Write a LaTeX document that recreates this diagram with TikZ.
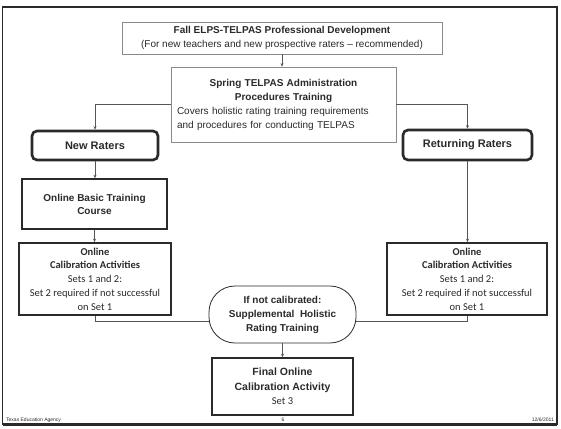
\documentclass[tikz,border=0pt]{standalone}
\usepackage{fontspec}
\setmainfont{Liberation Sans}
\newfontfamily\calib{Carlito}
\usetikzlibrary{arrows.meta}
\definecolor{ink}{HTML}{2A2A2A}
\definecolor{lightline}{HTML}{8A8A8A}
\tikzset{
  x=1pt,y=-1pt,
  txt/.style={font=\fontsize{10}{14}\selectfont, text=ink, align=center, inner sep=0pt},
  thinbox/.style={draw=lightline, line width=0.8pt, txt, minimum width=#1},
  solidbox/.style={draw=ink, line width=1.6pt, txt},
  raterbox/.style={draw=ink, line width=2.6pt, rounded corners=5pt, txt, font=\fontsize{11}{14}\selectfont\bfseries},
  pill/.style={draw=ink, line width=0.8pt, rounded corners=26pt, txt},
  conn/.style={draw=ink!80, line width=0.7pt},
  arr/.style={conn, -{Stealth[length=3.5pt,width=3pt]}},
  foot/.style={font=\fontsize{5}{6}\selectfont, text=ink, inner sep=0pt}
}
\begin{document}
\begin{tikzpicture}
\useasboundingbox (0,0) rectangle (561,428);
\fill[white] (0,0) rectangle (561,428);
% frame
\draw[ink, line width=1.2pt] (2.5,7) rectangle (557,424);
\draw[ink, line width=2.2pt] (2.5,424.5) -- (557,424.5);
% nodes
\node[thinbox=320pt, minimum height=32pt] (fall) at (282,38)
  {\textbf{Fall ELPS-TELPAS Professional Development}\\(For new teachers and new prospective raters -- recommended)};
\node[draw=lightline, line width=0.8pt, txt, minimum width=225pt, minimum height=75pt, text width=213pt, align=left] (spring) at (283.5,104.5)
  {{\centering\bfseries Spring TELPAS Administration\\ Procedures Training\par}Covers holistic rating training requirements\\ and procedures for conducting TELPAS};
\node[raterbox, minimum width=126pt, minimum height=29pt] (newr) at (95,145.5) {New Raters};
\node[raterbox, minimum width=129pt, minimum height=30pt] (retr) at (467.5,145) {Returning Raters};
\node[solidbox, minimum width=145pt, minimum height=50pt, font=\fontsize{10}{13}\selectfont\bfseries] (basic) at (94.5,204) {Online Basic Training\\ Course};
\node[solidbox, minimum width=152pt, minimum height=72pt, font=\calib\fontsize{10.5}{13.8}\selectfont] (lcal) at (95,279)
  {\textbf{Online}\\ \textbf{Calibration Activities}\\ Sets 1 and 2:\\ Set 2 required if not successful\\ on Set 1};
\node[solidbox, minimum width=160pt, minimum height=72pt, font=\calib\fontsize{10.5}{13.8}\selectfont] (rcal) at (467,279)
  {\textbf{Online}\\ \textbf{Calibration Activities}\\ Sets 1 and 2:\\ Set 2 required if not successful\\ on Set 1};
\node[pill, minimum width=147pt, minimum height=57pt, font=\fontsize{10}{14}\selectfont\bfseries] (supp) at (282.5,314.5)
  {If not calibrated:\\ Supplemental\ \ Holistic\\ Rating Training};
\node[solidbox, minimum width=141pt, minimum height=57pt, font=\fontsize{10.5}{14.5}\selectfont] (final) at (282.5,386.5)
  {\textbf{Final Online}\\ \textbf{Calibration Activity}\\ {\calib Set 3}};
% connectors
\draw[arr] (fall.south) -- (fall.south |- spring.north);
\draw[arr] (spring.west) -| (newr.north);
\draw[arr] (spring.east) -| (retr.north);
\draw[arr] (newr.south) -- (newr.south |- basic.north);
\draw[arr] (basic.south) -- (basic.south |- lcal.north);
\draw[arr] (retr.south) -- (retr.south |- rcal.north);
\coordinate (lj) at (supp.west |- 0,321);
\coordinate (rj) at (supp.east |- 0,321);
\draw[conn] (lcal.south) |- (lj);
\draw[conn] (rcal.south) |- (rj);
\draw[arr] (supp.south) -- (supp.south |- final.north);
% footer
\node[foot, anchor=west] (tea) at (6,420) {Texas Education Agency};
\node[foot] (pg) at (283,420) {6};
\node[foot, anchor=east] (dt) at (554,420) {12/6/2011};
\end{tikzpicture}
\end{document}
